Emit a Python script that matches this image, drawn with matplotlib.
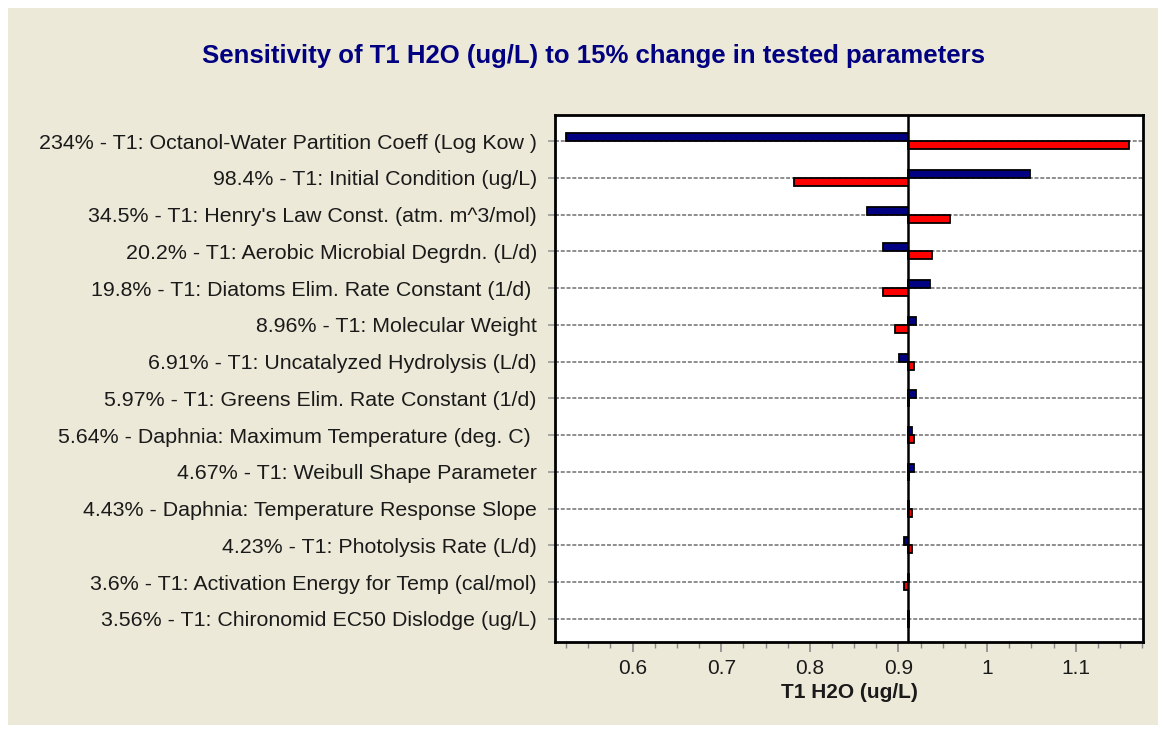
import matplotlib
matplotlib.use("Agg")
import matplotlib.pyplot as plt
from matplotlib.patches import Rectangle
from matplotlib.ticker import MultipleLocator

labels = [
    "234% - T1: Octanol-Water Partition Coeff (Log Kow )",
    "98.4% - T1: Initial Condition (ug/L)",
    "34.5% - T1: Henry's Law Const. (atm. m^3/mol)",
    "20.2% - T1: Aerobic Microbial Degrdn. (L/d)",
    "19.8% - T1: Diatoms Elim. Rate Constant (1/d) ",
    "8.96% - T1: Molecular Weight",
    "6.91% - T1: Uncatalyzed Hydrolysis (L/d)",
    "5.97% - T1: Greens Elim. Rate Constant (1/d)",
    "5.64% - Daphnia: Maximum Temperature (deg. C) ",
    "4.67% - T1: Weibull Shape Parameter",
    "4.43% - Daphnia: Temperature Response Slope",
    "4.23% - T1: Photolysis Rate (L/d)",
    "3.6% - T1: Activation Energy for Temp (cal/mol)",
    "3.56% - T1: Chironomid EC50 Dislodge (ug/L)",
]
baseline = 0.911
blue_vals = [0.525, 1.048, 0.865, 0.883, 0.936, 0.920, 0.901, 0.920,
             0.9155, 0.918, 0.912, 0.906, 0.912, 0.9115]
red_vals = [1.160, 0.782, 0.9586, 0.9375, 0.883, 0.896, 0.918, 0.912,
            0.918, 0.912, 0.915, 0.915, 0.906, 0.9115]

title = "Sensitivity of T1 H2O (ug/L) to 15% change in tested parameters"
xlabel = "T1 H2O (ug/L)"

plt.rcParams['font.family'] = ['Liberation Sans', 'DejaVu Sans']

fig = plt.figure(figsize=(11.66, 7.33), dpi=100)
fig.patch.set_facecolor("white")
fig.add_artist(Rectangle((8 / 1166, 8 / 733), 1150 / 1166, 717 / 733,
                         transform=fig.transFigure, facecolor="#ECE9D8",
                         edgecolor="none", zorder=-10))

ax = fig.add_axes([555 / 1166, 1 - 642 / 733, 588 / 1166, 527 / 733])
ax.set_facecolor("white")

n = len(labels)
ys = list(range(n))
h = 0.22
for i in ys:
    ax.axhline(i, color="#858585", linestyle=(0, (2.2, 1.0)), linewidth=1.3, zorder=1)

ax.barh([y - h for y in ys], [v - baseline for v in blue_vals], left=baseline,
        height=h, align="edge", color="#000080", edgecolor="black",
        linewidth=1.3, zorder=3)
ax.barh(ys, [v - baseline for v in red_vals], left=baseline,
        height=h, align="edge", color="#FF0000", edgecolor="black",
        linewidth=1.3, zorder=3)
ax.axvline(baseline, color="black", linewidth=1.8, zorder=4)

ax.set_xlim(0.5124, 1.176)
ax.set_ylim(n - 1 + 0.63, -0.71)
ax.set_yticks(ys)
ax.set_yticklabels(labels, fontsize=15.4, color="#1a1a1a")
ax.xaxis.set_minor_locator(MultipleLocator(0.025))
ax.set_xticks([0.6, 0.7, 0.8, 0.9, 1.0, 1.1])
ax.set_xticklabels(["0.6", "0.7", "0.8", "0.9", "1", "1.1"], fontsize=15, color="#1a1a1a")
ax.tick_params(axis="x", which="major", length=7.5, width=1.2, color="#888888", direction="out", pad=5)
ax.tick_params(axis="x", which="minor", length=4, width=1.0, color="#888888", direction="out")
ax.tick_params(axis="y", length=5, width=1.2, color="#999999", direction="out", pad=8)
for s in ax.spines.values():
    s.set_linewidth(2)
    s.set_color("black")

ax.set_xlabel(xlabel, fontsize=15, fontweight="bold", color="#1a1a1a", labelpad=3)
fig.text(593 / 1166, 1 - 56 / 733, title, ha="center", va="center",
         fontsize=18.5, fontweight="bold", color="#000080")

fig.savefig("out.png", dpi=100, facecolor=fig.get_facecolor())
